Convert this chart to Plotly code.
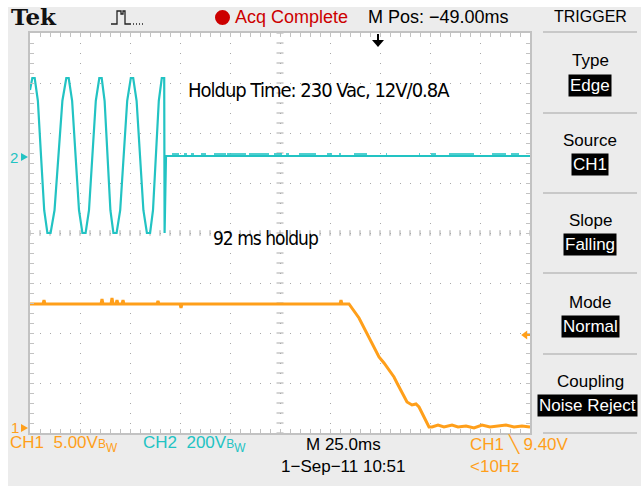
import plotly.graph_objects as go
import numpy as np

# CH2 (mains input, V) vs time (ms from left edge of screen, 25 ms/div)
ch2_t = [0.0, 1.15, 2.35, 3.94, 5.5, 7.1, 8.7, 10.3, 12.26, 14.2, 16.2,
         18.15, 19.35, 21.06, 22.8, 24.5, 26.2, 27.8, 29.5, 31.2, 32.9,
         34.65, 35.85, 37.3, 38.8, 40.2, 41.7, 43.3, 45.1, 46.85, 48.6,
         50.4, 51.6, 53.3, 55.0, 56.7, 58.45, 60.05, 61.5, 63.0, 64.4,
         65.9, 67.1, 67.3, 67.6, 68.0, 70.0, 250.0]
ch2_v = [268, 316, 316, 225, 6, -213, -304, -304, -213, 6, 225,
         316, 316, 225, 6, -213, -304, -304, -213, 6, 225,
         316, 316, 225, 6, -213, -304, -304, -213, 6, 225,
         316, 316, 225, 6, -213, -304, -304, -213, 6, 225,
         316, 316, -304, -40, 4, 4, 4]
# small noise excursions visible on the CH2 trace after dropout (start, end ms)
ch2_noise_segments = [(71, 74.5), (77, 78.5), (80.5, 82), (85.5, 88), (92, 98),
                      (98.5, 108), (109.5, 119.5), (122, 126), (128, 129.5),
                      (134.5, 143), (148.5, 151), (154.5, 155.5), (162, 168.5),
                      (178, 178.5), (194.5, 195), (200.5, 203), (209.5, 222),
                      (231, 238), (240.5, 244.5)]
ch2_noise_level = 12

# CH1 (12 V output) vs time
ch1_t = [0, 6.5, 7, 7.5, 35.5, 36, 36.5, 40.5, 41, 41.5, 43, 43.5, 44, 46, 46.5, 47,
         63.5, 64, 64.5, 75, 75.5, 76, 155, 155.5, 156, 159.5,
         164.5, 167, 169.5, 172, 174.5, 177, 179.5, 182, 183.5, 186, 188.5,
         191, 193, 194.5, 196, 198, 199.5,
         201, 204, 207, 211, 214, 218, 222, 226, 230, 234, 238, 242, 246, 250]
ch1_v = [12.5, 12.5, 12.9, 12.5, 12.5, 13.0, 12.5, 12.5, 13.1, 12.5, 12.5, 12.9, 12.5, 12.5, 12.9, 12.5,
         12.5, 12.8, 12.5, 12.5, 12.1, 12.5, 12.5, 12.9, 12.5, 12.5,
         11.1, 10.1, 9.1, 8.1, 7.2, 6.6, 5.9, 5.2, 4.6, 3.6, 2.7,
         2.4, 2.5, 2.2, 1.6, 0.9, 0.2,
         0.2, 0.4, 0.2, 0.4, 0.2, 0.3, 0.1, 0.4, 0.2, 0.3, 0.4, 0.2, 0.3, 0.2]

# scope settings
time_per_div = 25.0      # ms
ch1_volts_per_div = 5.0
ch2_volts_per_div = 200.0
ch1_ground_div = 0.08    # divisions above bottom of screen
ch2_ground_div = 5.52
trigger_level = 9.40
n_xdiv, n_ydiv = 10, 8

ORANGE = "#FF9F1A"
CYAN = "#22C3C3"
RED = "#CC0000"
GRID = "#A9A9A9"
FRAME = "#C2C2C2"
PANEL = "#ECECEC"
SANS = "Liberation Sans, Arial, sans-serif"
NARROW = "DejaVu Sans Condensed, Liberation Sans Narrow, Roboto Condensed, Liberation Sans, sans-serif"

W, H = 641, 486
L, R, T, B = 30, 111, 33, 53
PW, PH = W - L - R, H - T - B


def px(x):
    return (x - L) / PW


def py(y):
    return (H - B - y) / PH


fig = go.Figure()

# centre-line tick marks (graticule)
cx = n_xdiv * time_per_div / 2
fig.add_trace(go.Scatter(x=[cx] * (n_ydiv * 5 + 1), y=np.linspace(0, n_ydiv, n_ydiv * 5 + 1),
                         mode="markers", marker=dict(symbol="line-ew", size=5,
                         line=dict(color=GRID, width=1)), hoverinfo="skip", showlegend=False))
fig.add_trace(go.Scatter(x=np.linspace(0, n_xdiv * time_per_div, n_xdiv * 5 + 1), y=[n_ydiv / 2] * (n_xdiv * 5 + 1),
                         mode="markers", marker=dict(symbol="line-ns", size=4,
                         line=dict(color=GRID, width=1)), hoverinfo="skip", showlegend=False))

# CH2 trace
nx, ny = [], []
for a, b in ch2_noise_segments:
    nx += [a, b, None]
    ny += [ch2_noise_level, ch2_noise_level, None]
fig.add_trace(go.Scatter(x=nx, y=ny, yaxis="y3", mode="lines",
                         line=dict(color=CYAN, width=1.6), hoverinfo="skip", showlegend=False))
fig.add_trace(go.Scatter(x=ch2_t, y=ch2_v, yaxis="y3", mode="lines",
                         line=dict(color=CYAN, width=2.2), name="CH2", showlegend=False))
# CH1 trace
fig.add_trace(go.Scatter(x=ch1_t, y=ch1_v, yaxis="y2", mode="lines",
                         line=dict(color=ORANGE, width=3), name="CH1", showlegend=False))

axis_common = dict(showgrid=True, gridcolor=GRID, griddash="1px,9px", gridwidth=1,
                   ticks="inside", ticklen=4, tickcolor=FRAME, tickwidth=1,
                   mirror="allticks", showline=True, linecolor=FRAME, linewidth=2,
                   showticklabels=False, zeroline=False, fixedrange=True)
fig.update_layout(
    width=W, height=H,
    margin=dict(l=L, r=R, t=T, b=B, pad=0),
    paper_bgcolor=PANEL, plot_bgcolor="white",
    xaxis=dict(range=[0, n_xdiv * time_per_div], dtick=time_per_div, tick0=0,
               minor=dict(dtick=time_per_div / 5, ticks="inside", ticklen=4, tickcolor=FRAME, showgrid=False),
               **axis_common),
    yaxis=dict(range=[0, n_ydiv], dtick=1, tick0=0,
               minor=dict(dtick=0.2, ticks="inside", ticklen=4, tickcolor=FRAME, showgrid=False),
               **axis_common),
    yaxis2=dict(overlaying="y", visible=False, fixedrange=True,
                range=[-ch1_ground_div * ch1_volts_per_div, (n_ydiv - ch1_ground_div) * ch1_volts_per_div]),
    yaxis3=dict(overlaying="y", visible=False, fixedrange=True,
                range=[-ch2_ground_div * ch2_volts_per_div, (n_ydiv - ch2_ground_div) * ch2_volts_per_div]),
    showlegend=False,
)

shapes = []
# white strip around screenshot
shapes.append(dict(type="rect", xref="paper", yref="paper", x0=px(0), x1=px(W), y0=py(0), y1=py(7),
                   fillcolor="white", line=dict(width=0), layer="below"))
shapes.append(dict(type="rect", xref="paper", yref="paper", x0=px(0), x1=px(8), y0=py(0), y1=py(H),
                   fillcolor="white", line=dict(width=0), layer="below"))
# right-panel separators
for yy in [32, 113, 193, 273, 354, 433]:
    shapes.append(dict(type="line", xref="paper", yref="paper", x0=px(543), x1=px(637), y0=py(yy), y1=py(yy),
                       line=dict(color="#BDBDBD", width=1.5)))
# acquisition dot
shapes.append(dict(type="circle", xref="paper", yref="paper", x0=px(215), x1=px(230), y0=py(10), y1=py(25),
                   fillcolor=RED, line=dict(width=0)))


def path(pts):
    return "M " + " L ".join(f"{px(a)},{py(b)}" for a, b in pts)


# pulse icon
shapes.append(dict(type="path", xref="paper", yref="paper",
                   path=path([(111, 24), (117, 24), (117, 11), (121, 11), (121, 14), (123, 14), (123, 11), (125, 11), (125, 24), (130, 24)]),
                   line=dict(color="#222222", width=1.3)))
shapes.append(dict(type="line", xref="paper", yref="paper", x0=px(130), x1=px(145), y0=py(24), y1=py(24),
                   line=dict(color="#222222", width=1.3, dash="1px,2px")))
# trigger position arrow (top)
shapes.append(dict(type="line", xref="paper", yref="paper", x0=px(378), x1=px(378), y0=py(34), y1=py(42),
                   line=dict(color="black", width=2)))
shapes.append(dict(type="path", xref="paper", yref="paper",
                   path=path([(372, 40), (384, 40), (378, 47)]) + " Z", fillcolor="black", line=dict(width=0)))
# trigger level arrow (right) at trigger level of CH1
shapes.append(dict(type="path", xref="x", yref="y2",
                   path=f"M {250 - 4.4},{trigger_level} L {250 - 1.4},{trigger_level + 0.45} L {250 - 1.4},{trigger_level - 0.45} Z",
                   fillcolor=ORANGE, line=dict(width=0)))
shapes.append(dict(type="line", xref="x", yref="y2", x0=250 - 2, x1=250, y0=trigger_level, y1=trigger_level,
                   line=dict(color=ORANGE, width=2)))
# channel ground markers (left)
for gdiv, col in [(ch2_ground_div, CYAN), (ch1_ground_div + 0.02, ORANGE)]:
    yy = gdiv / n_ydiv
    shapes.append(dict(type="path", xref="paper", yref="paper",
                       path=f"M {px(21)},{yy + 4/PH} L {px(28)},{yy} L {px(21)},{yy - 4/PH} Z",
                       fillcolor=col, line=dict(width=0)))
fig.update_layout(shapes=shapes)

ann = []


def text(x, y, s, size=16, color="black", family=SANS, anchor="left", bg=None, pad=0):
    ann.append(dict(xref="paper", yref="paper", x=px(x), y=py(y), text=s, showarrow=False,
                    xanchor=anchor, yanchor="middle", font=dict(size=size, color=color, family=family),
                    bgcolor=bg, borderpad=pad))


text(10, 17, "<b>Tek</b>", 23, "#111111", "DejaVu Serif, Liberation Serif, serif")
text(234, 17, "Acq Complete", 18, RED)
text(367, 17, "M Pos: \u221249.00ms", 18)
text(590, 17, "TRIGGER", 16, anchor="center")

for lab, y_lab, val, y_val in [("Type", 61, "Edge", 86), ("Source", 140, "CH1", 165),
                               ("Slope", 220, "Falling", 244), ("Mode", 302, "Normal", 326),
                               ("Coupling", 381, "Noise Reject", 405)]:
    text(590, y_lab, lab, 17, anchor="center")
    if lab == "Coupling":
        text(537, y_val, val, 17, "white", anchor="left", bg="black", pad=1)
    else:
        text(590, y_val, val, 17, "white", anchor="center", bg="black", pad=1)

text(9, 444, "CH1  5.00V<span style='font-size:12px'>B</span><sub>W</sub>", 17, ORANGE)
text(142, 444, "CH2  200V<span style='font-size:12px'>B</span><sub>W</sub>", 17, CYAN)
text(305, 444, "M 25.0ms", 17)
text(280, 466, "1\u2212Sep\u221211 10:51", 17)
text(469, 444, "CH1 \u2572 9.40V", 17, ORANGE)
text(469, 466, "&lt;10Hz", 17, ORANGE)
text(9, 157, "2", 15, CYAN)
text(10, 427, "1", 15, ORANGE)

text(187, 90, "<span style='letter-spacing:-1px'>Holdup Time: 230 Vac, 12V/0.8A</span>", 20, "black", NARROW)
text(212, 238, "<span style='letter-spacing:-1px'>92 ms holdup</span>", 19, "black", NARROW)

fig.update_layout(annotations=ann)
fig.write_html("out.html", config={"displayModeBar": False},
               post_script="document.body.style.margin='0';document.body.style.overflow='hidden';")
